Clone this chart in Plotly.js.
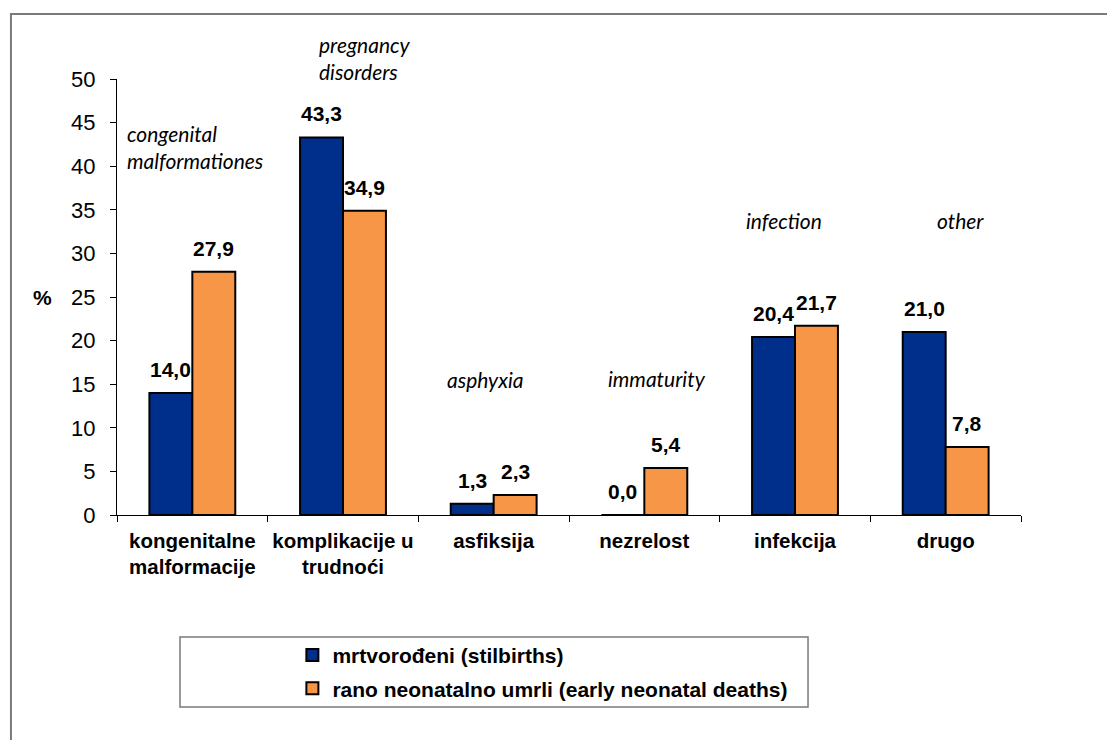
<!DOCTYPE html>
<html>
<head>
<meta charset="utf-8">
<script src="https://cdn.plot.ly/plotly-3.0.1.min.js"></script>
<style>html,body{margin:0;padding:0;background:#fff;}#chart{width:1107px;height:740px;}</style>
</head>
<body>
<div id="chart"></div>
<script>
var categories = ["kongenitalne<br>malformacije", "komplikacije u<br>trudnoći", "asfiksija", "nezrelost", "infekcija", "drugo"];
var englishNotes = ["congenital<br>malformationes", "pregnancy<br>disorders", "asphyxia", "immaturity", "infection", "other"];
var stillbirths = [14.0, 43.3, 1.3, 0.0, 20.4, 21.0];
var earlyNeonatal = [27.9, 34.9, 2.3, 5.4, 21.7, 7.8];
var seriesNames = ["mrtvorođeni (stilbirths)", "rano neonatalno umrli (early neonatal deaths)"];
var yTicks = [0, 5, 10, 15, 20, 25, 30, 35, 40, 45, 50];

var fmt = function(v){ return v.toFixed(1).replace('.', ','); };

var traces = [
  {type:'bar', name: seriesNames[0], x: categories, y: stillbirths, legendgroup:'a',
   marker:{color:'#002F8B', line:{color:'#000', width:2}}},
  {type:'bar', name: seriesNames[1], x: categories, y: earlyNeonatal, legendgroup:'b',
   marker:{color:'#F79646', line:{color:'#000', width:2}}}
];

var labelFont = {family:'Liberation Sans, Arial', size:21, color:'#000', weight:'bold'};
var annotations = [];
var off = 0.1425;
stillbirths.forEach(function(v,i){
  annotations.push({x: i - off, y: v, xref:'x', yref:'y', text: fmt(v), showarrow:false,
    yanchor:'bottom', yshift: 10, font: labelFont});
});
earlyNeonatal.forEach(function(v,i){
  annotations.push({x: i + off, y: v, xref:'x', yref:'y', text: fmt(v), showarrow:false,
    yanchor:'bottom', yshift: 10, font: labelFont});
});
// English italic notes (y in paper fraction of the plot height)
var notePos = [
  {x:-0.45, y:0.844, align:'left', xanchor:'left'},
  {x:0.83, y:1.049, align:'left', xanchor:'left'},
  {x:1.945, y:0.310, align:'center', xanchor:'center'},
  {x:3.084, y:0.314, align:'center', xanchor:'center'},
  {x:3.927, y:0.676, align:'center', xanchor:'center'},
  {x:5.10, y:0.676, align:'center', xanchor:'center'}
];
englishNotes.forEach(function(t,i){
  var p = notePos[i];
  annotations.push({x: p.x, y: p.y, xref:'x', yref:'paper', text: t, showarrow:false, align: p.align,
    xanchor: p.xanchor, yanchor:'middle', font:{family:'Lato, Open Sans', size:21, color:'#000', style:'italic'}});
});
annotations.push({x: -0.0819, y: 0.5, xref:'paper', yref:'paper', text:'%', showarrow:false,
  xanchor:'center', yanchor:'middle', font:labelFont});

var layout = {
  width: 1107, height: 740,
  margin: {l:117, r:86, t:79, b:225},
  paper_bgcolor:'#fff', plot_bgcolor:'#fff',
  bargap: 0.43, bargroupgap: 0,
  showlegend: true,
  legend: {x: 0.194, y: -0.275, xanchor:'left', yanchor:'top', bgcolor:'rgba(0,0,0,0)', borderwidth:0,
    tracegroupgap: 3,
    font:{family:'Liberation Sans, Arial', size:21, color:'#000', weight:'bold'}},
  xaxis: {type:'category', showline:true, linecolor:'#000', linewidth:1, ticks:'outside', ticklen:6,
    tickcolor:'#000', tickson:'boundaries', showgrid:false, zeroline:false, fixedrange:true,
    ticklabelstandoff: 7,
    tickfont:{family:'Liberation Sans, Arial', size:20.5, color:'#000', weight:'bold'}},
  yaxis: {range:[0,50], tickvals: yTicks, ticktext: yTicks.map(String), showline:true, linecolor:'#000', linewidth:1,
    ticks:'outside', ticklen:6, tickcolor:'#000', showgrid:false, zeroline:false, ticklabelstandoff: 10,
    tickfont:{family:'Liberation Sans, Arial', size:22, color:'#000'}},
  shapes: [
    {type:'rect', xref:'paper', yref:'paper', x0:-0.1173, x1:2, y0:-2, y1:1.149,
      line:{color:'#7a7a7a', width:2}, fillcolor:'rgba(0,0,0,0)', layer:'below'},
    {type:'rect', xref:'paper', yref:'paper', x0:0.0697, x1:0.7644, y0:-0.4404, y1:-0.2798,
      line:{color:'#7a7a7a', width:1.5}, fillcolor:'rgba(0,0,0,0)', layer:'below'}
  ],
  annotations: annotations
};

Plotly.newPlot('chart', traces, layout, {displayModeBar:false, staticPlot:true});
</script>
</body>
</html>
